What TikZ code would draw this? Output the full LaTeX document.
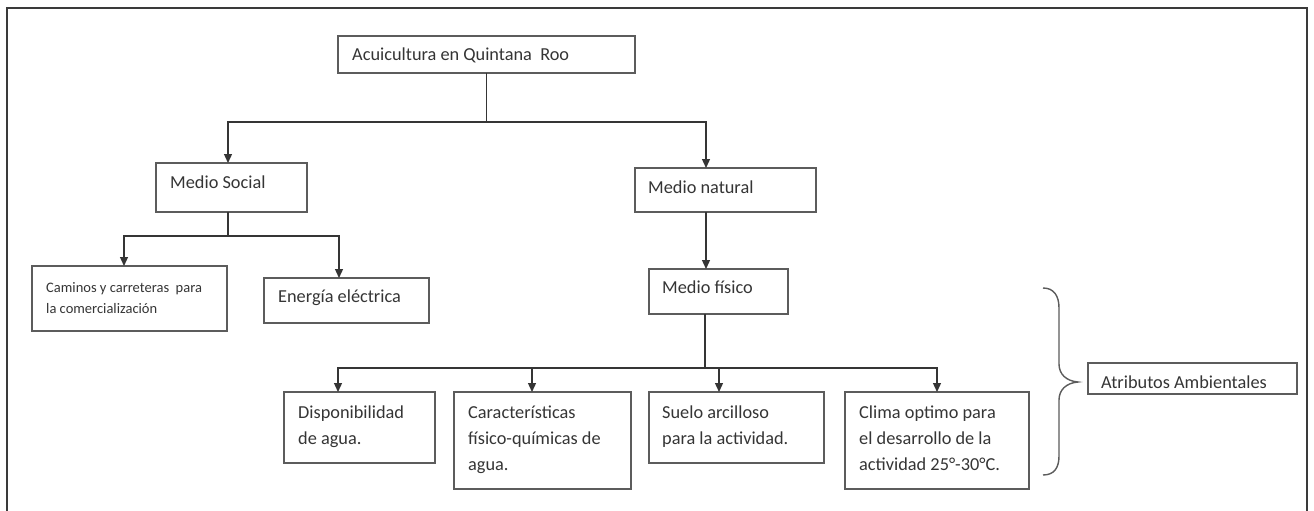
\documentclass[tikz,border=0pt]{standalone}
\usepackage{fontspec}
\setmainfont{Carlito}
\usetikzlibrary{arrows.meta}
\definecolor{ink}{HTML}{353535}
\definecolor{edge}{HTML}{5C5C5C}
\definecolor{frameink}{HTML}{3A3A3A}
\newcommand{\bigstrut}{\rule{0pt}{16pt}}
\newcommand{\smallstrut}{\rule{0pt}{13pt}}

\begin{document}
\begin{tikzpicture}[x=1pt,y=-1pt,
  box/.style={draw=edge, line width=1.5pt, rectangle, anchor=north west,
              inner sep=0pt, outer sep=0pt},
  txt/.style={anchor=north west, inner sep=0pt, align=left, text=ink,
              font=\fontsize{18.3}{26}\selectfont},
  smalltxt/.style={txt, font=\fontsize{14.5}{21}\selectfont},
  link/.style={draw=ink, line width=1.3pt},
  arr/.style={link, -{Triangle[width=8pt,length=9pt]}},
  brace/.style={draw=edge, line width=1.4pt},
  frame/.style={draw=frameink, line width=2pt},
]
\useasboundingbox[fill=white] (0,0) rectangle (1314,511);

% outer frame (open at the bottom)
\draw[frame] (7,511) -- (7,8) -- (1307,8) -- (1307,511);

% boxes
\node[box, minimum width=297pt, minimum height=37pt] (acu)     at (338,36)  {};
\node[box, minimum width=151pt, minimum height=49pt] (social)  at (156,163) {};
\node[box, minimum width=181pt, minimum height=44pt] (natural) at (635,168) {};
\node[box, minimum width=195pt, minimum height=65pt] (caminos) at (32,266)  {};
\node[box, minimum width=165pt, minimum height=45pt] (energia) at (264,278) {};
\node[box, minimum width=139pt, minimum height=45pt] (fisico)  at (649,269) {};
\node[box, minimum width=151pt, minimum height=71pt] (disp)    at (284,392) {};
\node[box, minimum width=177pt, minimum height=97pt] (carac)   at (454,392) {};
\node[box, minimum width=175pt, minimum height=71pt] (suelo)   at (649,392) {};
\node[box, minimum width=184pt, minimum height=97pt] (clima)   at (845,392) {};
\node[box, minimum width=209pt, minimum height=31pt] (attr)    at (1088,363) {};

% texts, top-aligned inside their boxes
\node[txt] (tacu)     at (352,44)  {\bigstrut Acuicultura en Quintana\ \ Roo};
\node[txt] (tsocial)  at (170,172) {\bigstrut Medio Social};
\node[txt] (tnatural) at (648,177) {\bigstrut Medio natural};
\node[smalltxt] (tcaminos) at (46,279) {\smallstrut Caminos y carreteras\ \ para\\la comercialización};
\node[txt] (tenergia) at (278,286) {\bigstrut Energía eléctrica};
\node[txt] (tfisico)  at (662,277) {\bigstrut Medio físico};
\node[txt] (tdisp)    at (298,402) {\bigstrut Disponibilidad\\de agua.};
\node[txt] (tcarac)   at (468,402) {\bigstrut Características\\físico-químicas de\\agua.};
\node[txt] (tsuelo)   at (662,402) {\bigstrut Suelo arcilloso\\para la actividad.};
\node[txt] (tclima)   at (859,402) {\bigstrut Clima optimo para\\el desarrollo de la\\actividad 25°-30°C.};
\node[txt] (tattr)    at (1101,372) {\bigstrut Atributos Ambientales};

% first level
\draw[link] (acu.south) -- ++(0,49) coordinate (b1);
\draw[arr] (b1) -| ([xshift=72pt]social.north west);
\draw[arr] (b1) -| ([xshift=71pt]natural.north west);

% social branch
\draw[link] ([xshift=72pt]social.south west) -- ++(0,24) coordinate (b2);
\draw[arr] (b2) -| ([xshift=92pt]caminos.north west);
\draw[arr] (b2) -| ([xshift=75pt]energia.north west);

% natural branch
\draw[arr] ([xshift=71pt]natural.south west) -- ([xshift=57pt]fisico.north west);
\draw[link] ([xshift=56pt]fisico.south west) -- ++(0,54) coordinate (b3);
\draw[arr] (b3) -| ([xshift=54pt]disp.north west);
\draw[arr] (b3) -| ([xshift=78pt]carac.north west);
\draw[arr] (b3) -| ([xshift=70pt]suelo.north west);
\draw[arr] (b3) -| ([xshift=92pt]clima.north west);

% brace grouping the attributes
\draw[brace] (1043,288) .. controls (1054,288) and (1059,296) .. (1059,308)
  -- (1059,364) .. controls (1059,374) and (1066,381) .. (1078,382)
  coordinate (bracetip)
  .. controls (1066,383) and (1059,390) .. (1059,400)
  -- (1059,456) .. controls (1059,468) and (1054,475) .. (1043,475);
\end{tikzpicture}
\end{document}
